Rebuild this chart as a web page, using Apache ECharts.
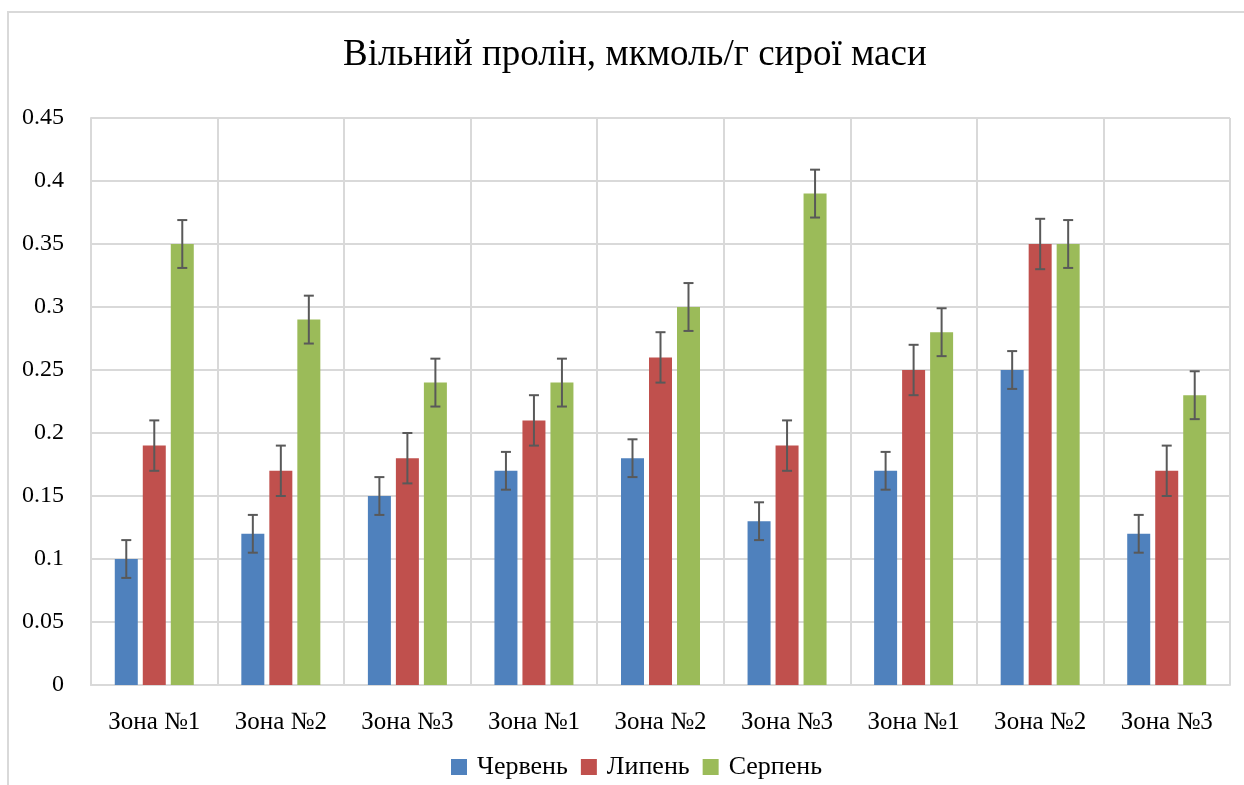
<!DOCTYPE html>
<html>
<head>
<meta charset="utf-8">
<script src="https://cdn.jsdelivr.net/npm/echarts@6/dist/echarts.min.js"></script>
<style>
  html, body { margin: 0; padding: 0; background: #fff; }
  #chart { width: 1244px; height: 785px; }
</style>
</head>
<body>
<div id="chart"></div>
<script>
var categories = ['Зона №1', 'Зона №2', 'Зона №3', 'Зона №1', 'Зона №2', 'Зона №3', 'Зона №1', 'Зона №2', 'Зона №3'];
var seriesNames = ['Червень', 'Липень', 'Серпень'];
var june = [0.10, 0.12, 0.15, 0.17, 0.18, 0.13, 0.17, 0.25, 0.12];
var july = [0.19, 0.17, 0.18, 0.21, 0.26, 0.19, 0.25, 0.35, 0.17];
var august = [0.35, 0.29, 0.24, 0.24, 0.30, 0.39, 0.28, 0.35, 0.23];
var juneErr = [0.015, 0.015, 0.015, 0.015, 0.015, 0.015, 0.015, 0.015, 0.015];
var julyErr = [0.02, 0.02, 0.02, 0.02, 0.02, 0.02, 0.02, 0.02, 0.02];
var augustErr = [0.019, 0.019, 0.019, 0.019, 0.019, 0.019, 0.019, 0.019, 0.019];
var yTicks = [0, 0.05, 0.1, 0.15, 0.2, 0.25, 0.3, 0.35, 0.4, 0.45];

var colors = ['#4F81BD', '#C0504D', '#9BBB59'];
var font = '"Liberation Serif", "Times New Roman", serif';
var barWidth = 23;
var barGapPx = 5;

var chart = echarts.init(document.getElementById('chart'));

// error bars drawn as custom series, shifted to the bar's slot
function errorSeries(values, errs, slot) {
  var data = values.map(function (v, i) {
    return [i, v - errs[i], v + errs[i]];
  });
  return {
    type: 'custom',
    name: seriesNames[slot] + ' err',
    z: 10,
    silent: true,
    data: data,
    renderItem: function (params, api) {
      var idx = api.value(0);
      var lo = api.coord([idx, api.value(1)]);
      var hi = api.coord([idx, api.value(2)]);
      var off = (slot - 1) * (barWidth + barGapPx);
      var x = lo[0] + off;
      var cap = 5;
      var style = { stroke: '#595959', lineWidth: 2 };
      return {
        type: 'group',
        children: [
          { type: 'line', shape: { x1: x, y1: hi[1], x2: x, y2: lo[1] }, style: style },
          { type: 'line', shape: { x1: x - cap, y1: hi[1], x2: x + cap, y2: hi[1] }, style: style },
          { type: 'line', shape: { x1: x - cap, y1: lo[1], x2: x + cap, y2: lo[1] }, style: style }
        ]
      };
    }
  };
}

var barData = [june, july, august];
var errData = [juneErr, julyErr, augustErr];
var series = [];
barData.forEach(function (vals, k) {
  series.push({
    type: 'bar',
    name: seriesNames[k],
    data: vals,
    barWidth: barWidth,
    barGap: (barGapPx / barWidth * 100) + '%',
    itemStyle: { color: colors[k] }
  });
});
barData.forEach(function (vals, k) {
  series.push(errorSeries(vals, errData[k], k));
});

chart.setOption({
  animation: false,
  color: colors,
  textStyle: { fontFamily: font },
  title: {
    text: 'Вільний пролін, мкмоль/г сирої маси',
    left: 338,
    top: 32,
    textStyle: { fontFamily: font, fontSize: 37, fontWeight: 'normal', color: '#000' }
  },
  legend: {
    data: seriesNames,
    bottom: 0,
    left: 446,
    itemWidth: 16,
    itemHeight: 16,
    itemGap: 13,
    icon: 'rect',
    textStyle: { fontFamily: font, fontSize: 26, color: '#000', padding: [0, 0, 0, 5] }
  },
  grid: { left: 91, right: 14, top: 118, bottom: 100 },
  xAxis: {
    type: 'category',
    data: categories,
    axisTick: { show: false },
    axisLine: { lineStyle: { color: '#d9d9d9', width: 2 } },
    axisLabel: { fontFamily: font, fontSize: 25, color: '#000', margin: 25, interval: 0 },
    splitLine: { show: true, interval: 0, lineStyle: { color: '#d9d9d9', width: 2 } }
  },
  yAxis: {
    type: 'value',
    min: yTicks[0],
    max: yTicks[yTicks.length - 1],
    interval: 0.05,
    axisLine: { show: true, lineStyle: { color: '#d9d9d9', width: 2 } },
    axisTick: { show: false },
    axisLabel: {
      fontFamily: font, fontSize: 24, color: '#000', margin: 27,
      formatter: function (v) { return String(Math.round(v * 100) / 100); }
    },
    splitLine: { lineStyle: { color: '#d9d9d9', width: 2 } }
  },
  graphic: [{
    type: 'rect',
    shape: { x: 8, y: 12, width: 1250, height: 800 },
    style: { fill: 'none', stroke: '#d9d9d9', lineWidth: 2 },
    silent: true
  }],
  series: series
});
</script>
</body>
</html>
